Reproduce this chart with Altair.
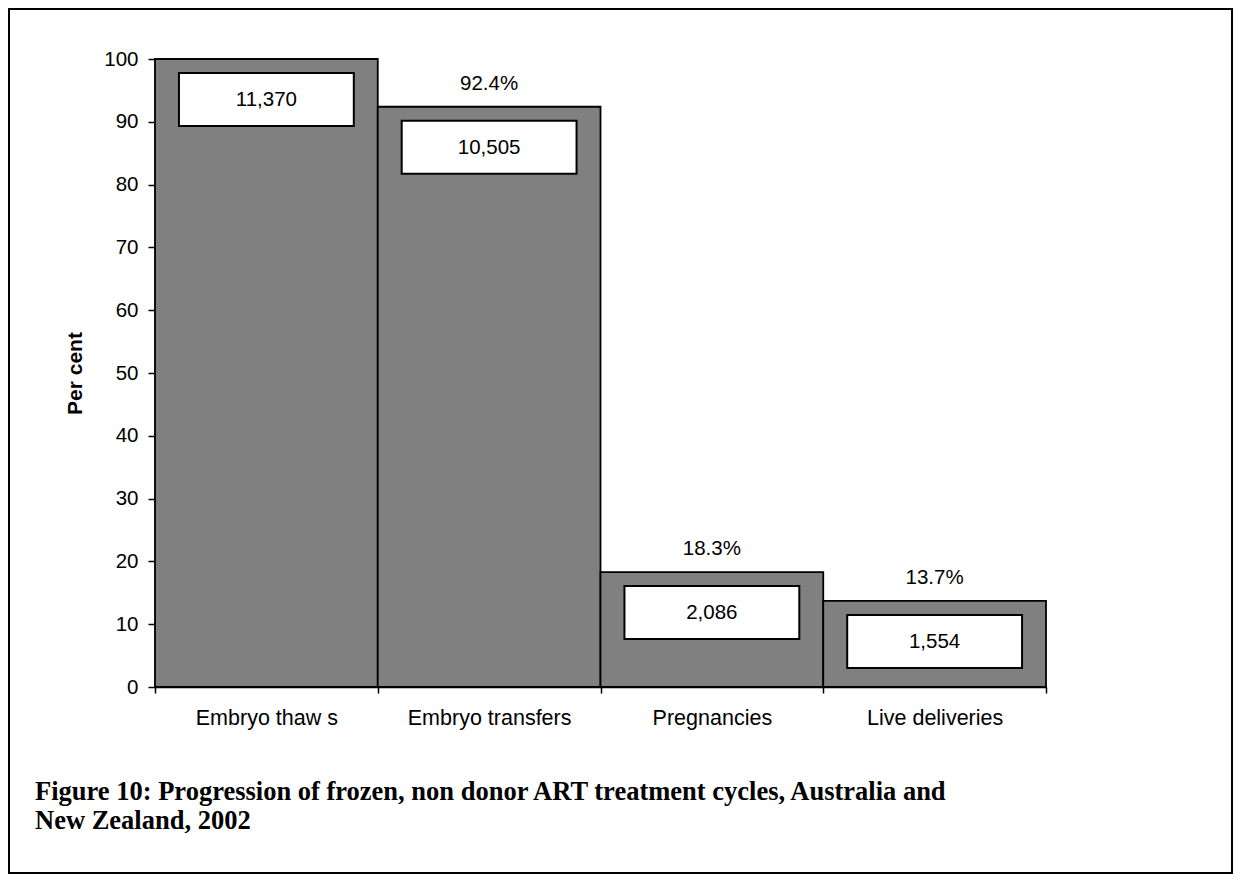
import altair as alt
import pandas as pd

categories = ["Embryo thaw s", "Embryo transfers", "Pregnancies", "Live deliveries"]
percents = [100.0, 92.4, 18.3, 13.7]
counts = ["11,370", "10,505", "2,086", "1,554"]
pct_labels = ["", "92.4%", "18.3%", "13.7%"]
y_ticks = list(range(0, 101, 10))
caption_lines = [
    "Figure 10: Progression of frozen, non donor ART treatment cycles, Australia and",
    "New Zealand, 2002",
]

df = pd.DataFrame({
    "category": categories,
    "percent": percents,
    "count": counts,
    "pct_label": pct_labels,
})
cap_df = pd.DataFrame({"caption": ["\n".join(caption_lines)]})
frame_df = pd.DataFrame({"f": [0]})

SANS = "Liberation Sans"

x_enc = alt.X(
    "category:N",
    sort=categories,
    scale=alt.Scale(paddingInner=0, paddingOuter=0),
    axis=alt.Axis(
        title=None, labelAngle=0, tickBand="extent", tickSize=6,
        labelPadding=14, labelFontSize=21.5, labelFont=SANS,
        domainColor="black", tickColor="black", labelColor="black",
        domainWidth=1.5, tickWidth=1.5,
    ),
)
y_enc = alt.Y(
    "percent:Q",
    scale=alt.Scale(domain=[0, 100], nice=False, zero=True),
    axis=alt.Axis(
        values=y_ticks, title="Per cent", grid=False, tickSize=7,
        labelPadding=10, labelFontSize=20.5, labelFont=SANS,
        domainColor="black", tickColor="black", labelColor="black",
        domainWidth=1.5, tickWidth=1.5,
        titleFont=SANS, titleFontSize=21, titleFontWeight="bold",
        titleColor="black", titleX=-80, titleY=314, titleAngle=270,
        titleAlign="center", titleBaseline="middle",
    ),
)

base = alt.Chart(df)

bars = base.mark_bar(color="#808080", stroke="black", strokeWidth=1.8).encode(
    x=x_enc, y=y_enc
)

boxes = base.mark_bar(
    fill="white", stroke="black", strokeWidth=2,
    yOffset=14, y2Offset=67, width=alt.RelativeBandSize(0.785),
).encode(
    x=alt.X("category:N", sort=categories),
    y=alt.Y("percent:Q"),
    y2=alt.Y2("percent"),
)

count_text = base.mark_text(
    font=SANS, fontSize=20.5, color="black", baseline="middle", dy=41
).encode(
    x=alt.X("category:N", sort=categories),
    y=alt.Y("percent:Q"),
    text="count:N",
)

pct_text = base.mark_text(
    font=SANS, fontSize=20.5, color="black", baseline="middle", dy=-23
).encode(
    x=alt.X("category:N", sort=categories),
    y=alt.Y("percent:Q"),
    text="pct_label:N",
)

caption = alt.Chart(cap_df).mark_text(
    font="Liberation Serif", fontSize=26.5, fontWeight="bold", color="black",
    align="left", baseline="middle", lineBreak="\n", lineHeight=29,
).encode(
    x=alt.value(-120), y=alt.value(733), text="caption:N"
)

frame = alt.Chart(frame_df).mark_rect(
    fillOpacity=0, stroke="black", strokeWidth=2
).encode(
    x=alt.value(-146), x2=alt.value(1077), y=alt.value(-50), y2=alt.value(814)
)

chart = alt.layer(bars, boxes, count_text, pct_text, caption, frame).properties(
    width=891,
    height=628,
    padding={"left": 147, "top": 51, "right": 187, "bottom": 187},
    autosize=alt.AutoSizeParams(type="none"),
    background="white",
).configure_view(stroke=None)

chart.save("out.html", embed_options={"renderer": "svg", "actions": False})
